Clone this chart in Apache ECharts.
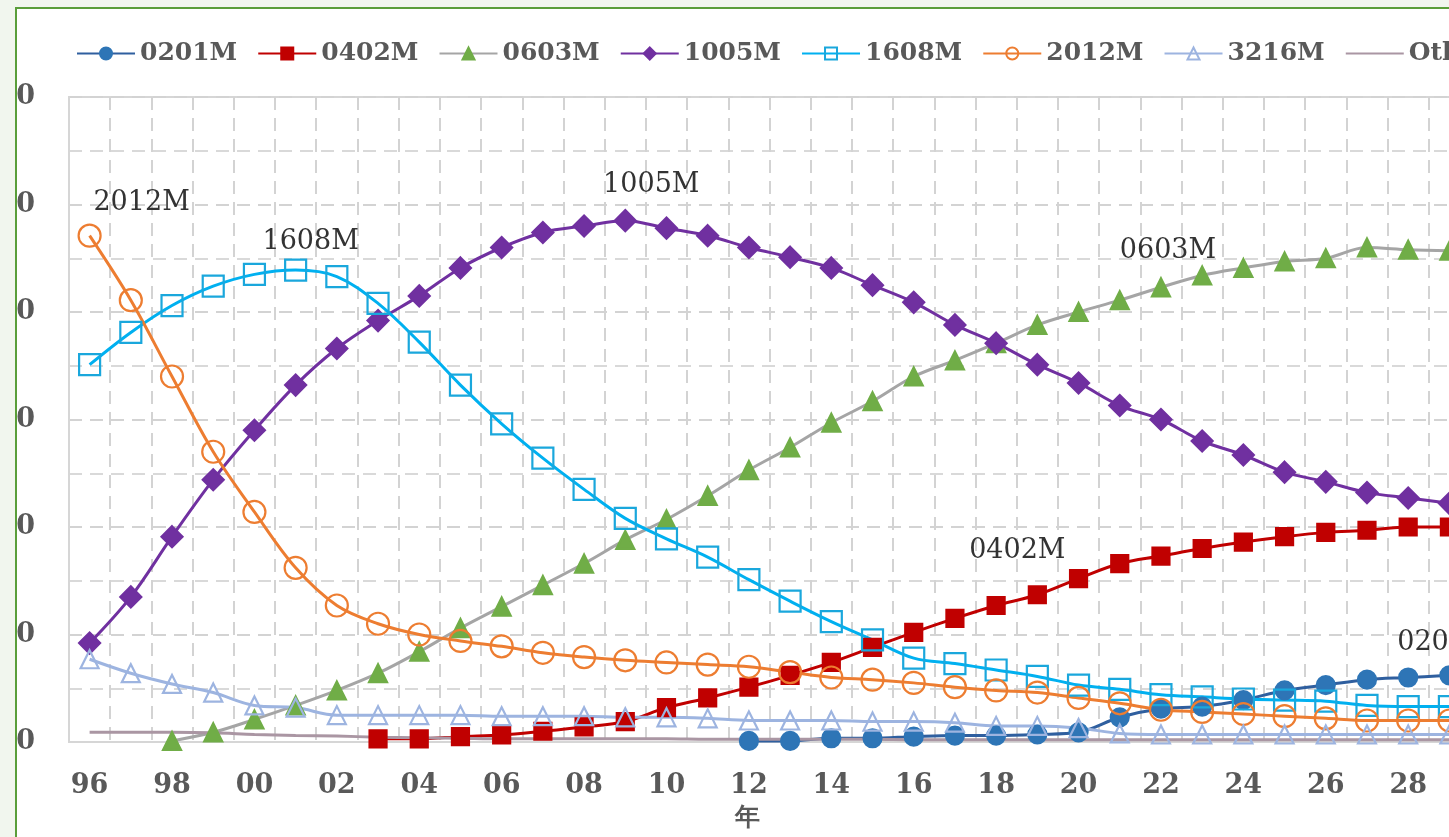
<!DOCTYPE html>
<html>
<head>
<meta charset="utf-8">
<script src="https://cdn.jsdelivr.net/npm/echarts@6/dist/echarts.min.js"></script>
<style>
  html, body { margin:0; padding:0; width:1449px; height:837px; overflow:hidden; background:#f1f6ee; }
  #frame { position:absolute; left:15px; top:7px; width:1520px; height:900px; border:2px solid #5a9e3a; background:#fff; overflow:hidden; }
  #chart { position:absolute; left:-17px; top:-9px; width:1600px; height:860px; }
</style>
</head>
<body>
<div id="frame"><div id="chart"></div></div>
<script>
// ---- data ----
const years = ['96','97','98','99','00','01','02','03','04','05','06','07','08','09','10','11','12','13','14','15','16','17','18','19','20','21','22','23','24','25','26','27','28','29'];
const yTicks = [0,10,20,30,40,50,60];
const s0201M = [null,null,null,null,null,null,null,null,null,null,null,null,null,null,null,null,
  0.1,0.1,0.35,0.35,0.5,0.6,0.6,0.7,0.9,2.3,3.1,3.3,3.9,4.8,5.3,5.8,6.0,6.2];
const s0402M = [null,null,null,null,null,null,null,
  0.3,0.3,0.5,0.65,1.0,1.4,1.9,3.2,4.1,5.1,6.2,7.4,8.8,10.2,11.5,12.7,13.7,15.2,16.6,17.3,18.0,18.6,19.1,19.5,19.7,20.0,20.0];
const s0603M = [null,null,
  0.1,0.9,2.1,3.4,4.8,6.4,8.4,10.6,12.6,14.6,16.6,18.8,20.7,22.9,25.3,27.4,29.7,31.7,34.0,35.5,37.1,38.8,40.0,41.1,42.3,43.4,44.1,44.7,45.0,46.0,45.8,45.7];
const s1005M = [9.2,13.5,19.1,24.4,29.0,33.2,36.6,39.2,41.5,44.1,46.0,47.4,48.0,48.5,47.8,47.1,46.0,45.1,44.1,42.5,40.9,38.8,37.1,35.1,33.4,31.3,30.0,28.0,26.7,25.1,24.2,23.2,22.7,22.2];
const s1608M = [35.1,38.1,40.6,42.4,43.5,43.9,43.3,40.8,37.2,33.2,29.6,26.4,23.5,20.8,18.9,17.2,15.1,13.1,11.2,9.5,7.8,7.3,6.7,6.1,5.3,4.9,4.4,4.2,4.0,3.9,3.8,3.4,3.3,3.3];
const s2012M = [47.1,41.1,34.0,27.0,21.4,16.2,12.7,11.0,10.0,9.4,8.9,8.3,7.9,7.6,7.4,7.2,7.0,6.5,6.0,5.8,5.5,5.1,4.8,4.6,4.1,3.6,3.0,2.8,2.6,2.4,2.2,2.0,2.0,2.0];
const s3216M = [7.7,6.4,5.4,4.6,3.4,3.2,2.5,2.5,2.5,2.5,2.4,2.4,2.4,2.3,2.3,2.2,2.0,2.0,2.0,1.9,1.9,1.8,1.5,1.5,1.3,0.8,0.7,0.7,0.7,0.7,0.7,0.7,0.7,0.7];
const sOthers = [0.9,0.9,0.9,0.85,0.7,0.6,0.55,0.45,0.4,0.35,0.3,0.3,0.3,0.3,0.3,0.25,0.25,0.25,0.25,0.25,0.2,0.2,0.2,0.2,0.2,0.2,0.2,0.2,0.2,0.2,0.2,0.2,0.2,0.2];
const seriesNames = ['0201M','0402M','0603M','1005M','1608M','2012M','3216M','Others'];

// annotation: series name -> [category index, label offset]
const notes = {
  '2012M': [0, [52, -2]],
  '1608M': [5, [15, 2]],
  '1005M': [13, [26, -6]],
  '0603M': [26, [7, -8]],
  '0402M': [23, [-20, -16]],
  '0201M': [33, [-4, -4]]
};

const FONT = 'DejaVu Serif';
function withNote(name, arr) {
  const n = notes[name];
  return arr.map((v, i) => {
    if (n && i === n[0]) {
      return { value: v, label: { show: true, position: 'top', offset: n[1], formatter: name,
        fontFamily: FONT, fontSize: 27, color: '#333333', fontWeight: 'normal' } };
    }
    return v;
  });
}

function mk(name, arr, lineColor, symbol, symSize, fill, border) {
  return {
    name, type: 'line', data: withNote(name, arr), smooth: 0.35,
    symbol, symbolSize: symSize, connectNulls: false,
    lineStyle: { color: lineColor, width: 3 },
    itemStyle: { color: fill, borderColor: border, borderWidth: 2.2 },
    label: { show: false },
    emphasis: { disabled: true }
  };
}

const chart = echarts.init(document.getElementById('chart'));
chart.setOption({
  animation: false,
  backgroundColor: '#fff',
  legend: {
    left: 71, top: 36, itemWidth: 58, itemHeight: 15, itemGap: 20,
    data: seriesNames.map(n => n === 'Others'
      ? { name: n, itemStyle: { color: 'rgba(0,0,0,0)', borderWidth: 0 } }
      : n),
    textStyle: { fontFamily: FONT, fontSize: 25, fontWeight: 'bold', color: '#595959' }
  },
  grid: { left: 69, top: 97, width: 1401, height: 645, show: true, borderColor: '#d6d6d6', borderWidth: 2,
    containLabel: false, outerBoundsMode: 'none' },
  xAxis: {
    type: 'category', data: years, boundaryGap: true,
    name: '年', nameLocation: 'middle', nameGap: 64,
    nameTextStyle: { fontFamily: FONT, fontSize: 25, fontWeight: 'bold', color: '#595959', padding: [0, 44, 0, 0] },
    axisLine: { lineStyle: { color: '#d6d6d6', width: 2 } },
    axisTick: { show: false },
    axisLabel: { interval: 1, margin: 30, fontFamily: FONT, fontSize: 27, fontWeight: 'bold', color: '#595959' },
    splitLine: { show: true, interval: 0, lineStyle: { color: '#d3d3d3', width: 2, type: [13, 8] } }
  },
  yAxis: {
    type: 'value', min: yTicks[0], max: yTicks[yTicks.length - 1], interval: 10,
    axisLine: { show: true, lineStyle: { color: '#d6d6d6', width: 2 } },
    axisTick: { show: false },
    axisLabel: { margin: 34, fontFamily: FONT, fontSize: 27, fontWeight: 'bold', color: '#595959' },
    splitLine: { show: true, lineStyle: { color: '#d3d3d3', width: 2, type: [13, 8] } },
    minorTick: { show: false, splitNumber: 2 },
    minorSplitLine: { show: true, lineStyle: { color: '#d9d9d9', width: 2, type: [13, 8] } }
  },
  series: [
    mk(seriesNames[0], s0201M, '#2f5f9f', 'circle', 18, '#2e75b6', '#2e75b6'),
    mk(seriesNames[1], s0402M, '#c00000', 'rect', 17, '#c00000', '#c00000'),
    mk(seriesNames[2], s0603M, '#a5a5a5', 'triangle', 18, '#70ad47', '#70ad47'),
    mk(seriesNames[3], s1005M, '#7030a0', 'diamond', 21, '#7030a0', '#7030a0'),
    mk(seriesNames[4], s1608M, '#00b0f0', 'rect', 21, 'rgba(255,255,255,0)', '#1aa7dc'),
    mk(seriesNames[5], s2012M, '#ed7d31', 'circle', 22, 'rgba(255,255,255,0)', '#ed7d31'),
    mk(seriesNames[6], s3216M, '#9db4e0', 'triangle', 18, 'rgba(255,255,255,0)', '#9db4e0'),
    mk(seriesNames[7], sOthers, '#aa96a3', 'none', 0, '#aa96a3', '#aa96a3')
  ]
});
</script>
</body>
</html>
